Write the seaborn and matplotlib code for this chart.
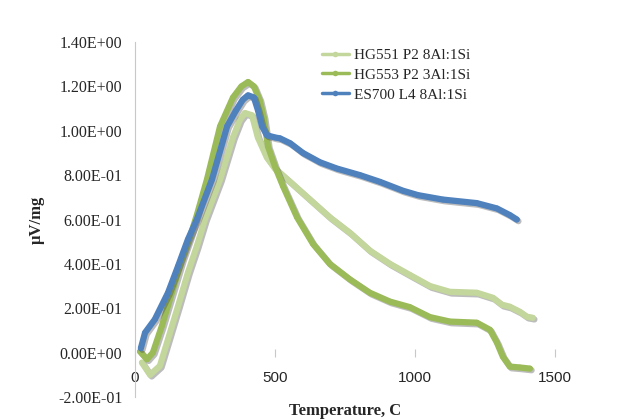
import numpy as np
import pandas as pd
import matplotlib
matplotlib.use('Agg')
import matplotlib.pyplot as plt
import matplotlib.patheffects as pe
from matplotlib.ticker import FuncFormatter
import seaborn as sns

# values
temp_hg551 = [25, 54, 89, 118, 154, 189, 221, 250, 304, 350, 375, 393, 418, 439, 471, 500, 554,
              625, 696, 768, 839, 911, 982, 1054, 1125, 1221, 1279, 1311, 1339, 1375, 1400, 1421]
val_hg551 = [-0.045, -0.10, -0.06, 0.06, 0.21, 0.36, 0.48, 0.60, 0.78, 0.97, 1.05, 1.08, 1.07,
             0.97, 0.88, 0.83, 0.77, 0.69, 0.61, 0.54, 0.46, 0.40, 0.35, 0.30, 0.274, 0.27,
             0.247, 0.216, 0.207, 0.184, 0.162, 0.157]

temp_hg553 = [18, 43, 64, 96, 132, 168, 196, 221, 257, 304, 350, 380, 404, 425, 445, 460, 475,
              500, 529, 579, 636, 696, 768, 839, 911, 982, 1054, 1125, 1221, 1268, 1293, 1314,
              1339, 1375, 1411]
val_hg553 = [0.005, -0.03, 0.0, 0.12, 0.27, 0.42, 0.52, 0.62, 0.78, 1.02, 1.15, 1.20, 1.22, 1.20,
             1.14, 1.06, 0.93, 0.84, 0.75, 0.61, 0.49, 0.40, 0.33, 0.27, 0.23, 0.205, 0.16, 0.14,
             0.135, 0.103, 0.045, -0.018, -0.063, -0.067, -0.072]

temp_es700 = [21, 36, 71, 118, 154, 189, 221, 275, 329, 360, 385, 404, 425, 440, 454, 471, 500,
              518, 554, 600, 661, 721, 804, 875, 957, 1011, 1100, 1221, 1293, 1339, 1364]
val_es700 = [0.02, 0.09, 0.15, 0.27, 0.39, 0.51, 0.60, 0.78, 1.02, 1.09, 1.14, 1.16, 1.15, 1.09,
             1.02, 0.98, 0.97, 0.966, 0.944, 0.90, 0.858, 0.83, 0.80, 0.77, 0.73, 0.71, 0.69,
             0.674, 0.65, 0.62, 0.60]

series_names = ['HG551 P2 8Al:1Si', 'HG553 P2 3Al:1Si', 'ES700 L4 8Al:1Si']
series_colors = ['#c3d69b', '#9bbb59', '#4f81bd']

x_ticks = [0, 500, 1000, 1500]
y_ticks = [-0.2, 0.0, 0.2, 0.4, 0.6, 0.8, 1.0, 1.2, 1.4]

frames = []
for name, t, v in zip(series_names,
                      [temp_hg551, temp_hg553, temp_es700],
                      [val_hg551, val_hg553, val_es700]):
    frames.append(pd.DataFrame({'Temperature': t, 'Value': v, 'Sample': name}))
df = pd.concat(frames, ignore_index=True)

sns.set_style('white')
plt.rcParams['font.family'] = ['Liberation Serif', 'DejaVu Serif']

fig = plt.figure(figsize=(6.44, 4.20), dpi=100)
ax = fig.add_axes([0.2096, 0.0548, 0.652, 0.845])

shadow = [pe.SimpleLineShadow(offset=(1.2, -1.2), alpha=0.35, shadow_color='#404040'), pe.Normal()]
for name, color in zip(series_names, series_colors):
    sub = df[df['Sample'] == name]
    sns.lineplot(data=sub, x='Temperature', y='Value', sort=False, ax=ax, color=color,
                 linewidth=4.5, marker='o', markersize=4, markeredgewidth=0, label=name,
                 solid_joinstyle='round', solid_capstyle='round', path_effects=shadow)

ax.set_xlim(0, 1500)
ax.set_ylim(-0.2, 1.4)
ax.set_xticks(x_ticks)
ax.set_yticks(y_ticks)
ax.yaxis.set_major_formatter(FuncFormatter(lambda v, p: f'{v:.2E}'))

for s in ['top', 'right']:
    ax.spines[s].set_visible(False)
ax.spines['left'].set_color('#c8c8c8')
ax.spines['bottom'].set_position(('data', 0))
ax.spines['bottom'].set_visible(False)

ax.tick_params(axis='y', direction='out', length=4, color='#c8c8c8', labelsize=11.5, pad=5)
ax.tick_params(axis='x', direction='inout', length=6, color='#c8c8c8', labelsize=11, pad=10,
               bottom=True)
for lbl in ax.get_xticklabels():
    lbl.set_fontfamily(['Liberation Sans', 'DejaVu Sans'])

ax.set_xlabel('Temperature, C', fontsize=12, fontweight='bold')
ax.set_ylabel('\u00b5V/mg', fontsize=12, fontweight='bold')
ax.xaxis.set_label_coords(0.5, -0.018)
ax.yaxis.set_label_coords(-0.215, 0.5)

leg = ax.legend(loc='upper left', bbox_to_anchor=(0.43, 1.0), frameon=False, fontsize=11,
                handlelength=1.8, handletextpad=0.3, labelspacing=0.4, borderaxespad=0)
for line in leg.get_lines():
    line.set_linewidth(2.5)
    line.set_path_effects([])

fig.savefig('out.png', dpi=100)
